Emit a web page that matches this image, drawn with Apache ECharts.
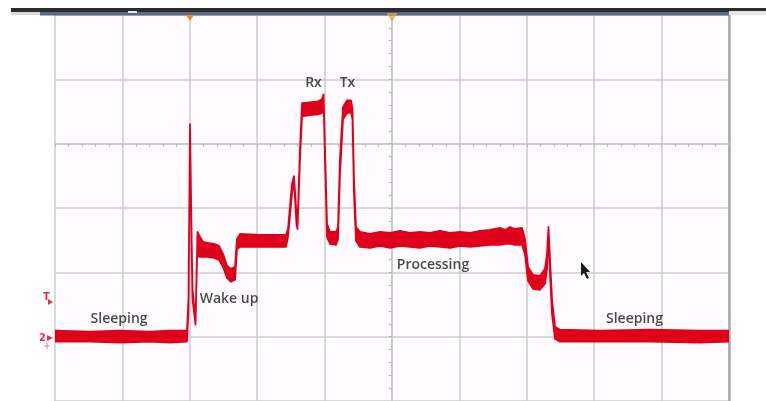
<!DOCTYPE html>
<html>
<head>
<meta charset="utf-8">
<script src="https://cdn.jsdelivr.net/npm/echarts@6/dist/echarts.min.js"></script>
<style>
html,body{margin:0;padding:0;background:#ffffff;}
#chart{width:766px;height:401px;}
</style>
</head>
<body>
<div id="chart"></div>
<script>
// Time in screen divisions (centre = 0), amplitude in vertical divisions (centre line = 0)
var time = [
 -5.000,-4.481,-4.036,-3.591,-3.294,-3.042,-3.019,-2.997,-2.975,-2.960,-2.915,-2.886,-2.864,-2.804,-2.730,-2.641,-2.567,-2.507,-2.448,-2.389,-2.329,-2.300,-2.255,-1.958,-1.573,-1.543,-1.484,-1.454,-1.417,-1.402,-1.365,-1.335,-1.217,-1.098,-1.039,-1.016,-0.994,-0.964,-0.920,-0.831,-0.801,-0.772,-0.727,-0.668,-0.608,-0.586,-0.564,-0.534,
 -0.475,-0.326,-0.178,-0.030,0.119,0.267,0.415,0.564,0.712,0.861,1.009,1.157,1.306,1.454,1.602,1.677,1.751,1.825,1.929,
 1.973,2.018,2.092,2.196,2.270,2.300,2.322,2.344,2.374,2.418,2.493,3.086,3.828,4.570,5.000
];
var upper = [
 -2.907,-2.922,-2.907,-2.922,-2.907,-2.907,-2.411,0.302,-1.326,-2.256,-2.752,-1.372,-1.419,-1.527,-1.543,-1.558,-1.589,-1.713,-1.899,-1.946,-1.915,-1.481,-1.403,-1.419,-1.419,-1.326,-0.628,-0.504,-1.093,-1.248,-0.085,0.628,0.643,0.659,0.690,0.767,-0.085,-1.248,-1.372,-1.372,-1.295,-0.240,0.566,0.674,0.674,0.535,-0.550,-1.295,
 -1.372,-1.403,-1.372,-1.388,-1.357,-1.388,-1.372,-1.388,-1.357,-1.388,-1.372,-1.388,-1.357,-1.341,-1.310,-1.341,-1.295,-1.326,-1.310,
 -1.481,-1.915,-2.039,-2.054,-1.946,-1.713,-1.295,-1.791,-2.411,-2.845,-2.891,-2.907,-2.891,-2.907,-2.907
];
var lower = [
 -3.078,-3.078,-3.093,-3.078,-3.093,-3.078,-2.566,0.256,-1.481,-2.411,-2.814,-1.481,-1.760,-1.760,-1.760,-1.775,-1.806,-1.915,-2.085,-2.147,-2.116,-1.636,-1.605,-1.605,-1.605,-1.450,-0.783,-0.581,-1.248,-1.326,-0.240,0.426,0.442,0.457,0.473,0.690,-0.240,-1.450,-1.558,-1.574,-1.481,-0.473,0.380,0.474,0.488,0.380,-0.783,-1.512,
 -1.605,-1.620,-1.589,-1.620,-1.589,-1.605,-1.620,-1.589,-1.605,-1.620,-1.589,-1.605,-1.589,-1.574,-1.574,-1.558,-1.558,-1.574,-1.574,
 -1.713,-2.132,-2.256,-2.271,-2.178,-1.946,-1.357,-2.023,-2.643,-3.031,-3.078,-3.078,-3.078,-3.093,-3.078
];
var labelText = ['Sleeping','Wake up','Rx','Tx','Processing','Sleeping'];
var labelTime = [-4.050,-2.418,-1.165,-0.660,0.608,3.598];
var labelAmp  = [-2.721,-2.411,0.938,0.938,-1.884,-2.721];

var RED = '#e1001c';
var chart = echarts.init(document.getElementById('chart'), null, {renderer:'canvas'});

var labelData = labelText.map(function(t,i){ return {name:t, value:[labelTime[i], labelAmp[i]]}; });

var gridLine = {color:'#cdcdcd', width:1.5};

chart.setOption({
  animation:false,
  backgroundColor:'#ffffff',
  grid:{left:55, top:15, width:674, height:387, show:true, backgroundColor:'#fdfbfd', borderWidth:0},
  xAxis:{
    type:'value', min:-5, max:5, interval:1,
    axisLabel:{show:false},
    axisLine:{show:true, onZero:true, lineStyle:{color:'#c9c9c9', width:1.5}},
    axisTick:{show:true, length:3, lineStyle:{color:'#b5b5b5'}},
    minorTick:{show:true, splitNumber:5, length:3, lineStyle:{color:'#b5b5b5', width:1.2}},
    splitLine:{show:true, lineStyle:gridLine}
  },
  yAxis:[{
    type:'value', min:-4, max:2, interval:1,
    axisLabel:{show:false},
    axisLine:{show:true, onZero:true, lineStyle:{color:'#c9c9c9', width:1.5}},
    axisTick:{show:true, length:3, lineStyle:{color:'#b5b5b5'}},
    minorTick:{show:true, splitNumber:5, length:3, lineStyle:{color:'#b5b5b5', width:1.2}},
    splitLine:{show:true, lineStyle:gridLine}
  },{
    type:'value', min:-4, max:2, position:'right',
    axisLabel:{show:false}, axisTick:{show:false}, splitLine:{show:false},
    axisLine:{show:true, lineStyle:{color:'#a9a9a9', width:2.5}}
  }],
  series:[{
    type:'custom',
    coordinateSystem:'cartesian2d',
    clip:true, silent:true, z:5,
    data:[[time[0], upper[0]]],
    renderItem:function(params, api){
      var pts = [];
      for (var i=0;i<time.length;i++) pts.push(api.coord([time[i], upper[i]]));
      for (var j=time.length-1;j>=0;j--) pts.push(api.coord([time[j], lower[j]]));
      return {type:'polygon', shape:{points:pts}, style:{fill:RED, stroke:RED, lineWidth:1.8, lineJoin:'round'}};
    }
  },{
    type:'scatter', symbolSize:0, silent:true, z:6,
    data:labelData,
    label:{show:true, position:'inside', formatter:'{b}', color:'#1c1c1c', fontFamily:'Open Sans', fontSize:14, fontWeight:600}
  }],
  graphic:[
    {type:'rect', shape:{x:11,y:8,width:755,height:4}, style:{fill:'#2c2c30'}, z:100},
    {type:'rect', shape:{x:11,y:12,width:29,height:3}, style:{fill:'#d8d8dc'}, z:100},
    {type:'rect', shape:{x:40,y:12,width:689,height:3.5}, style:{fill:'#5c6987'}, z:100},
    {type:'rect', shape:{x:729,y:11,width:37,height:4}, style:{fill:'#e6e6ea'}, z:100},
    {type:'rect', shape:{x:128,y:11,width:9,height:2}, style:{fill:'#e8e8ee'}, z:101},
    {type:'polygon', shape:{points:[[186,15],[194,15],[190,21]]}, style:{fill:'#e8901a'}, z:101},
    {type:'polygon', shape:{points:[[388,14],[396,14],[392,20]]}, style:{fill:'none', stroke:'#e8a040', lineWidth:1.5}, z:101},
    {type:'text', style:{text:'T', x:43, y:292, fill:'#e1304a', font:'bold 10px "DejaVu Sans"'}, z:101},
    {type:'polygon', shape:{points:[[48,299],[53,302],[48,305]]}, style:{fill:'#e1304a'}, z:101},
    {type:'text', style:{text:'2', x:39, y:333, fill:'#e1304a', font:'bold 10px "DejaVu Sans"'}, z:101},
    {type:'polygon', shape:{points:[[47,335],[53,338],[47,341]]}, style:{fill:'#e1304a'}, z:101},
    {type:'line', shape:{x1:44,y1:346,x2:50,y2:346}, style:{stroke:'#ee8090', lineWidth:1}, z:101},
    {type:'line', shape:{x1:47,y1:343,x2:47,y2:349}, style:{stroke:'#ee8090', lineWidth:1}, z:101},
    {type:'polygon', shape:{points:[[581,262],[581,276],[584,273],[587,279],[589,278],[586,272],[590,272]]}, style:{fill:'#1a1a1a'}, z:101}
  ]
});
</script>
</body>
</html>
